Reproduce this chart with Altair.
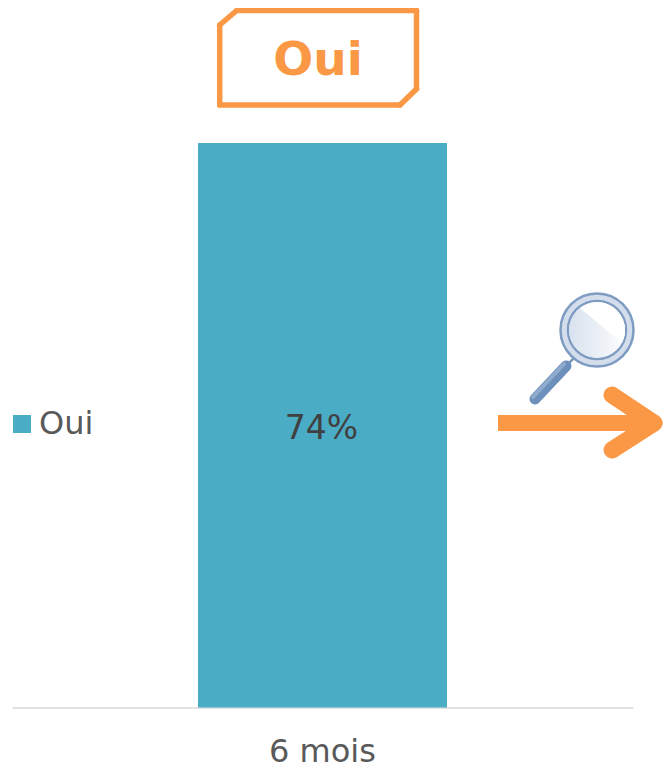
import altair as alt
import pandas as pd

categories = ["6 mois"]
series = ["Oui"]
values = [0.74]
labels = ["74%"]

ORANGE = "#FA9845"
BLUE = "#4BACC6"
GREY = "#595959"
PLOT_X, PLOT_Y = 12, 143
W, H = 621, 564.5

df = pd.DataFrame({"cat": categories, "serie": series, "val": values, "label": labels})
df["mid"] = df["val"] / 2


def px(v):
    return v - PLOT_X


def py(v):
    return v - PLOT_Y


def seg(a, b, color=ORANGE, width=5.5, cap="round"):
    return alt.Chart(df).mark_rule(color=color, strokeWidth=width, strokeCap=cap, opacity=1).encode(
        x=alt.value(px(a[0])), y=alt.value(py(a[1])),
        x2=alt.value(px(b[0])), y2=alt.value(py(b[1])),
    )


def disc(cx, cy, r, fill, stroke=None, width=0):
    opts = dict(shape="circle", size=(2 * r) ** 2, filled=True, fill=fill, opacity=1, fillOpacity=1)
    if stroke:
        opts.update(stroke=stroke, strokeWidth=width)
    return alt.Chart(df).mark_point(**opts).encode(x=alt.value(px(cx)), y=alt.value(py(cy)))


bars = alt.Chart(df).mark_bar(size=249).encode(
    x=alt.X("cat:N", title=None, scale=alt.Scale(paddingInner=0.6, paddingOuter=0.3),
            axis=alt.Axis(labelAngle=0, ticks=False, domainColor="#D9D9D9", domainWidth=1.5,
                          labelFontSize=32, labelColor=GREY, labelFont="DejaVu Sans",
                          labelPadding=54, labelBaseline="alphabetic", grid=False)),
    y=alt.Y("val:Q", title=None, axis=None, scale=alt.Scale(domain=[0, 0.74], nice=False)),
    color=alt.Color("serie:N", title=None,
                    scale=alt.Scale(range=[BLUE]),
                    legend=alt.Legend(orient="none", legendX=-6, legendY=265, padding=0,
                                      symbolType="square", symbolSize=324, symbolStrokeWidth=0,
                                      labelFontSize=32, labelColor=GREY, labelFont="DejaVu Sans",
                                      labelOffset=1)),
)

bar_text = alt.Chart(df).mark_text(fontSize=33, color="#404040", font="DejaVu Sans", dy=4, dx=-1).encode(
    x=alt.X("cat:N"), y=alt.Y("mid:Q"), text="label:N",
)

# callout box
box_pts = [(236.7, 10.5), (416.5, 10.5), (416.5, 89), (400, 105), (219.7, 105), (219.7, 25), (236.7, 10.5)]
box = [seg(box_pts[i], box_pts[i + 1]) for i in range(len(box_pts) - 1)]
box_text = alt.Chart(df).mark_text(fontSize=47, fontWeight="bold", color=ORANGE, font="DejaVu Sans",
                                   baseline="alphabetic").encode(
    x=alt.value(px(318)), y=alt.value(py(75)), text="serie:N",
)

# arrow
arrow = [
    seg((498, 423), (650, 423), width=16, cap="butt"),
    seg((612, 395), (654, 423), width=17),
    seg((612, 450), (654, 423), width=17),
]

# magnifier
lens_grad = alt.LinearGradient(gradient="linear", x1=0, y1=0, x2=1, y2=0,
                               stops=[alt.GradientStop(offset=0, color="#D9E2EF"),
                                      alt.GradientStop(offset=1, color="#FBFCFD")])
highlight = alt.Chart(df).mark_point(shape="M-17,-22A28,28,0,0,1,25,13Z", size=4, filled=True,
                                     fill="#FFFFFF", opacity=1, fillOpacity=1).encode(
    x=alt.value(px(597)), y=alt.value(py(330)))
magnifier = [
    seg((575, 357), (566, 366), color="#7F9CC0", width=2.5, cap="butt"),
    seg((566, 366), (535, 399), color="#6C90BB", width=11),
    seg((564, 364), (533, 397), color="#8FABCD", width=4),
    disc(597, 330, 36.5, "#D3DDEB", "#7E9CC1", 2.5),
    disc(597, 330, 29, "#FFFFFF", "#7E9CC1", 2.5),
    disc(597, 330, 28, lens_grad),
    highlight,
]

chart = alt.layer(bars, bar_text, *box, box_text, *arrow, *magnifier).properties(
    width=W, height=H,
    autosize=alt.AutoSizeParams(type="none"),
    padding={"left": 4, "top": 135, "right": 30, "bottom": 64},
).configure_view(stroke=None)

chart.save("out.html", embed_options={"renderer": "svg", "actions": False})
